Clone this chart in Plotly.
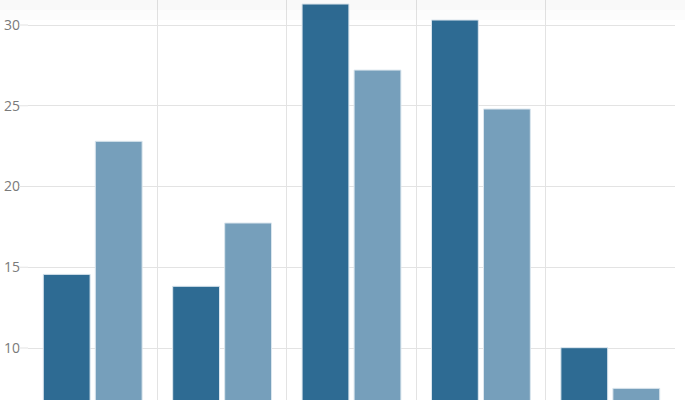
import plotly.graph_objects as go

categories = [0, 1, 2, 3, 4]
series_a = [14.56, 13.82, 31.30, 30.31, 10.02]
series_b = [22.80, 17.74, 27.21, 24.80, 7.50]
y_ticks = [10, 15, 20, 25, 30]

fig = go.Figure()
fig.add_trace(go.Bar(x=categories, y=series_a, name="A",
                     marker=dict(color="#2e6b93", line=dict(color="#dbe6ee", width=1))))
fig.add_trace(go.Bar(x=categories, y=series_b, name="B",
                     marker=dict(color="#769fbb", line=dict(color="#dbe6ee", width=1))))

fig.update_layout(
    width=685, height=400,
    margin=dict(l=28, r=10, t=0, b=0),
    paper_bgcolor="white", plot_bgcolor="white",
    barmode="group", bargap=0.196, bargroupgap=0.1,
    showlegend=False,
    font=dict(family="Open Sans", size=14, color="#7a7a7a"),
    xaxis=dict(range=[-0.5, 4.5], tickvals=[-0.5, 0.5, 1.5, 2.5, 3.5, 4.5],
               showticklabels=False, showgrid=True, gridcolor="#e3e3e3",
               zeroline=False, showline=False, ticks=""),
    yaxis=dict(range=[6.78, 31.55], tickvals=y_ticks, showgrid=True,
               gridcolor="#e3e3e3", zeroline=False, showline=False, ticks="",
               ticklabelstandoff=7),
)
for t in y_ticks:
    fig.add_shape(type="line", xref="paper", yref="y", x0=-0.0139, x1=0, y0=t, y1=t,
                  line=dict(color="#e3e3e3", width=1))
fig.add_shape(type="rect", xref="paper", yref="paper", x0=-0.05, x1=1.02, y0=0.975, y1=1.0,
              fillcolor="rgba(0,0,0,0.025)", line=dict(width=0), layer="above")
fig.add_shape(type="rect", xref="paper", yref="paper", x0=-0.05, x1=1.02, y0=0.95, y1=0.975,
              fillcolor="rgba(0,0,0,0.012)", line=dict(width=0), layer="above")
fig.write_html("out.html", config={"displayModeBar": False},
               post_script="document.body.style.margin='0';")
